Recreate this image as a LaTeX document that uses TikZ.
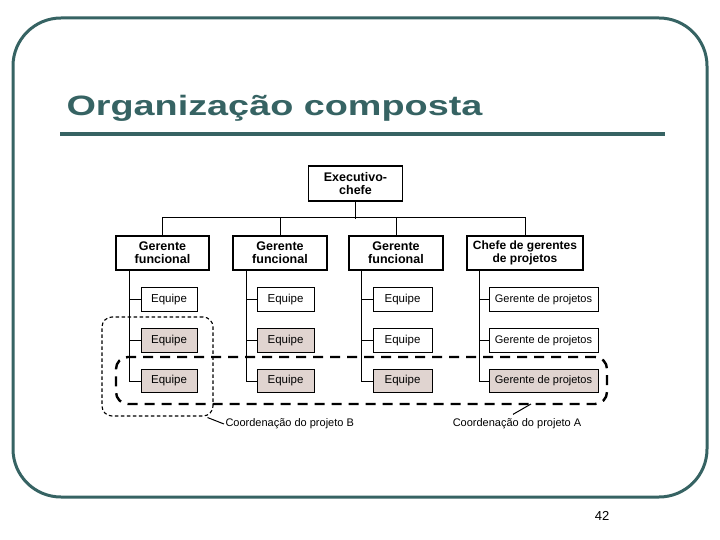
\documentclass[tikz,border=0pt]{standalone}
\usepackage{fontspec}
\setmainfont{Liberation Sans}
\usepackage{graphicx}
\definecolor{slideteal}{RGB}{54,99,99}
\definecolor{teamfill}{RGB}{224,212,208}
\begin{document}
\begin{tikzpicture}[
  x=1pt, y=-1pt,
  hbox/.style={draw, line width=1.1pt, minimum height=34pt, inner sep=0pt,
    align=center, font=\bfseries\fontsize{12.5}{13}\selectfont},
  tbox/.style={draw, line width=1pt, minimum height=23.5pt, inner sep=0pt,
    font=\fontsize{11.5}{12}\selectfont},
  shaded/.style={fill=teamfill},
  coordB/.style={draw, line width=1.1pt, dash pattern=on 3.5pt off 2.5pt,
    rounded corners=10pt, inner sep=0pt},
  coordA/.style={draw, line width=2.4pt, dash pattern=on 10pt off 7pt,
    rounded corners=12pt, inner sep=0pt},
  line width=1pt
]
  \useasboundingbox (0,0) rectangle (720,540);

  % slide frame and title
  \draw[slideteal, line width=3pt, rounded corners=48pt] (13,18) rectangle (707,497);
  \node[anchor=base west, inner sep=0pt, text=slideteal,
    font=\bfseries\fontsize{28}{30}\selectfont] (title) at (66,116)
    {\scalebox{1.35}[1]{Organização composta}};
  \draw[slideteal, line width=4pt] (60,134) -- (665,134);
  \node[font=\fontsize{13}{15}\selectfont] (pagenum) at (602,516) {42};

  % top of the chart
  \node[hbox, minimum width=94pt, minimum height=35pt] (exec) at (355.5,183.5) {Executivo-\\chefe};
  \node[hbox, minimum width=93pt] (gf1) at (162.5,253) {Gerente\\funcional};
  \node[hbox, minimum width=94pt] (gf2) at (280,253) {Gerente\\funcional};
  \node[hbox, minimum width=94pt] (gf3) at (396,253) {Gerente\\funcional};
  \node[hbox, minimum width=116pt, font=\bfseries\fontsize{12}{13}\selectfont] (cgp) at (525,253) {Chefe de gerentes\\de projetos};

  % teams under each manager
  \node[tbox, minimum width=56pt] (e1a) at (169,299.5) {Equipe};
  \node[tbox, minimum width=56pt, shaded] (e1b) at (169,340.5) {Equipe};
  \node[tbox, minimum width=56pt, shaded] (e1c) at (169,381) {Equipe};
  \node[tbox, minimum width=57pt] (e2a) at (285.5,299.5) {Equipe};
  \node[tbox, minimum width=57pt, shaded] (e2b) at (285.5,340.5) {Equipe};
  \node[tbox, minimum width=57pt, shaded] (e2c) at (285.5,381) {Equipe};
  \node[tbox, minimum width=59pt] (e3a) at (402.5,299.5) {Equipe};
  \node[tbox, minimum width=59pt] (e3b) at (402.5,340.5) {Equipe};
  \node[tbox, minimum width=59pt, shaded] (e3c) at (402.5,381) {Equipe};
  \node[tbox, minimum width=109pt, font=\fontsize{11}{12}\selectfont] (gp1) at (543.5,299.5) {Gerente de projetos};
  \node[tbox, minimum width=109pt, font=\fontsize{11}{12}\selectfont] (gp2) at (543.5,340.5) {Gerente de projetos};
  \node[tbox, minimum width=109pt, font=\fontsize{11}{12}\selectfont, shaded] (gp3) at (543.5,381) {Gerente de projetos};

  % bus from the chief executive
  \draw (exec.south) -- ++(0,17);
  \draw (gf1.north) -- ++(0,-18) -| (cgp.north);
  \draw (gf2.north) -- ++(0,-18);
  \draw (gf3.north) -- ++(0,-18);

  % spines
  \coordinate (s1) at (129,270);
  \coordinate (s2) at (246,270);
  \coordinate (s3) at (361,270);
  \coordinate (s4) at (479,270);
  \draw (s1) |- (e1c.west);
  \draw (e1a.west) -- (e1a -| s1);
  \draw (e1b.west) -- (e1b -| s1);
  \draw (s2) |- (e2c.west);
  \draw (e2a.west) -- (e2a -| s2);
  \draw (e2b.west) -- (e2b -| s2);
  \draw (s3) |- (e3c.west);
  \draw (e3a.west) -- (e3a -| s3);
  \draw (e3b.west) -- (e3b -| s3);
  \draw (s4) |- (gp3.west);
  \draw (gp1.west) -- (gp1 -| s4);
  \draw (gp2.west) -- (gp2 -| s4);

  % project coordination
  \node[coordA, minimum width=491pt, minimum height=47pt] (projA) at (361.5,380.5) {};
  \node[coordB, minimum width=111pt, minimum height=99pt] (projB) at (157.5,366.5) {};
  \node[anchor=west, inner sep=1pt, font=\fontsize{11}{12}\selectfont] (labB) at (224,424) {Coordenação do projeto B};
  \node[inner sep=1pt, font=\fontsize{11}{12}\selectfont] (labA) at (517,424) {Coordenação do projeto A};
  \coordinate (aend) at (531,404);
  \draw ([xshift=-6pt, yshift=-1pt]projB.south east) -- (labB.west);
  \draw ([shift={(-4pt,3pt)}]labA.north) -- (aend);
\end{tikzpicture}
\end{document}
